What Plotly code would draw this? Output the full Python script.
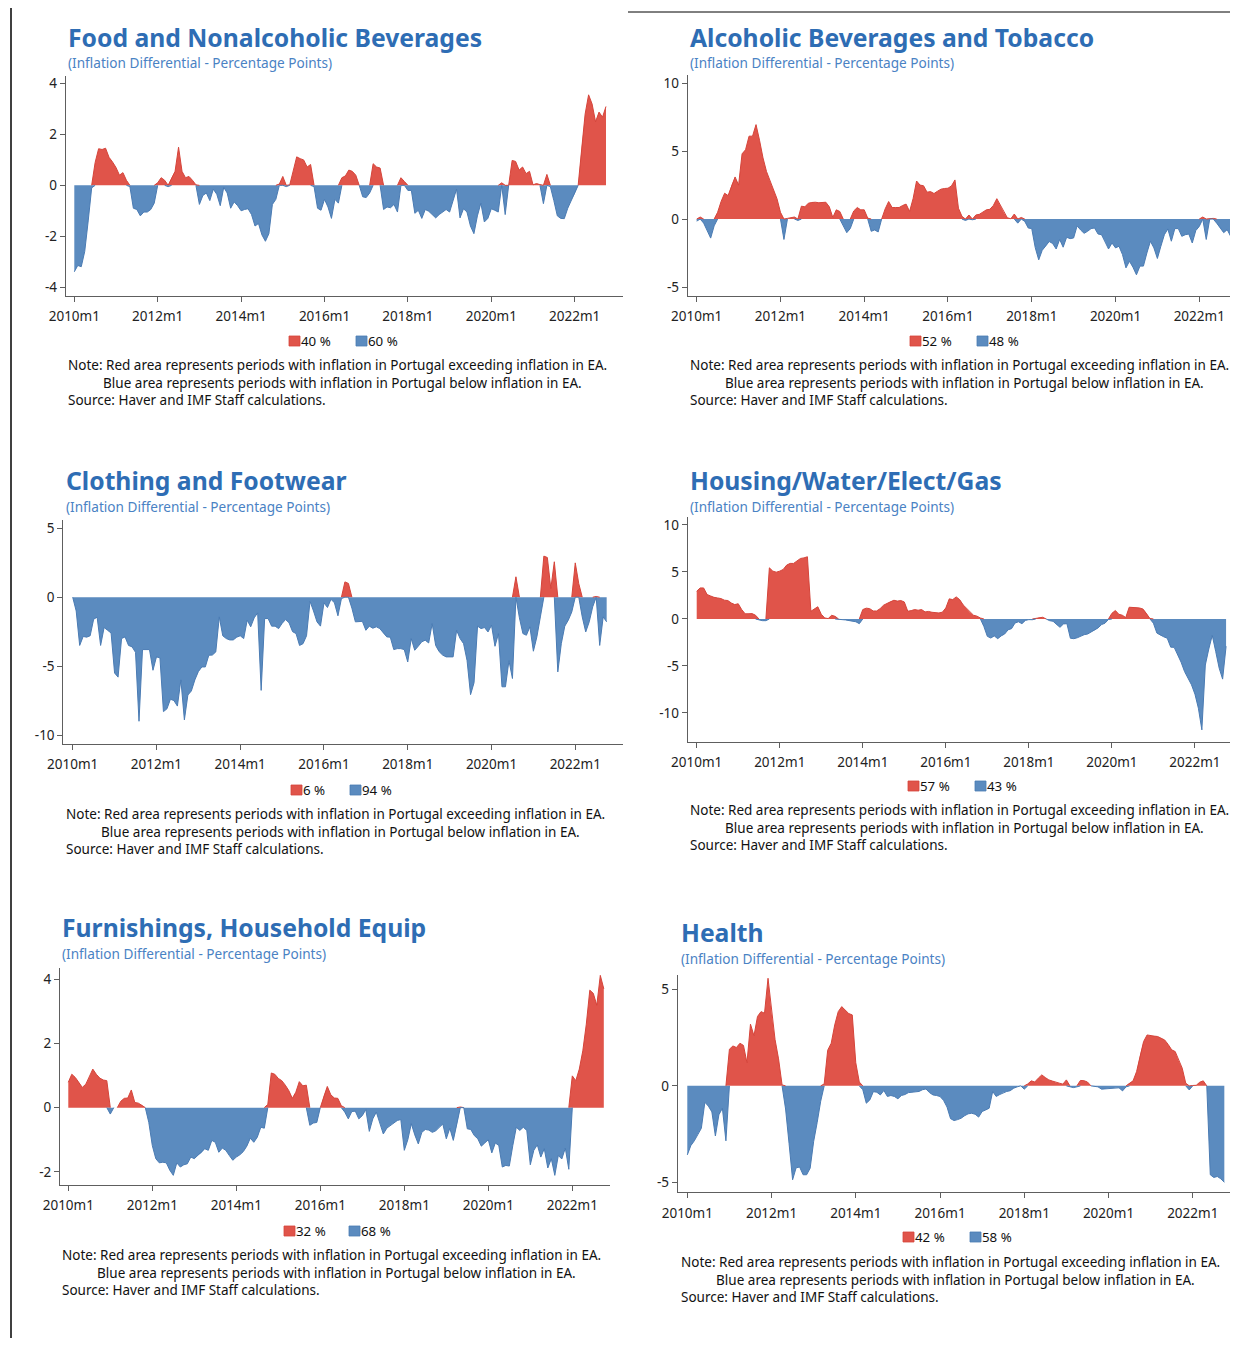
import plotly.graph_objects as go

# page is drawn with an 8px body margin, so the figure is offset by 8px and sized to fit the window
PAGE_W, PAGE_H, OFF = 1238, 1346, 8
W, H = PAGE_W - OFF, PAGE_H - 2 * OFF

# ---------------- data ----------------
tick_labels = ["2010m1", "2012m1", "2014m1", "2016m1", "2018m1", "2020m1", "2022m1"]

titles = ["Food and Nonalcoholic Beverages", "Alcoholic Beverages and Tobacco",
          "Clothing and Footwear", "Housing/Water/Elect/Gas",
          "Furnishings, Household Equip", "Health"]
subtitle = "(Inflation Differential - Percentage Points)"
red_share = [40, 52, 6, 57, 32, 42]
blue_share = [60, 48, 94, 43, 68, 58]
note_lines = ["Note: Red area represents periods with inflation in Portugal exceeding inflation in EA.",
              "Blue area represents periods with inflation in Portugal below inflation in EA.",
              "Source: Haver and IMF Staff calculations."]

food = [-3.4, -3.15, -3.2, -2.6, -1.4, -0.1, 0.9, 1.44, 1.41, 1.46,
        1.1, 0.92, 0.7, 0.4, 0.5, 0.2, -0.05, -0.9, -0.95, -1.2,
        -1.05, -1.05, -0.95, -0.7, 0.1, 0.3, 0.2, -0.05, 0.3, 0.55,
        1.5, 0.55, 0.3, 0.35, 0.2, 0.02, -0.75, -0.4, -0.3, -0.6,
        -0.15, -0.35, -0.8, -0.08, -0.3, -0.9, -0.65, -0.8, -1.0, -0.95,
        -0.92, -1.15, -1.6, -1.5, -1.95, -2.2, -1.9, -0.75, -0.55, 0.05,
        0.35, -0.05, 0.02, 0.55, 1.12, 1.05, 1.0, 0.72, 0.82, -0.05,
        -0.9, -0.98, -0.55, -0.85, -1.3, -0.55, -0.7, 0.3, 0.37, 0.6,
        0.55, 0.4, 0.0, -0.45, -0.48, -0.3, 0.85, 0.72, 0.68, -0.95,
        -0.85, -0.88, -0.75, -1.05, 0.3, 0.15, -0.2, -0.2, -1.1, -0.98,
        -1.3, -0.95, -1.02, -1.15, -1.28, -1.15, -1.05, -0.95, -1.05, -0.6,
        -0.15, -1.28, -0.92, -1.05, -1.6, -1.9, -1.2, -0.7, -1.44, -1.3,
        -0.92, -0.98, -1.05, 0.1, -1.15, 0.0, 0.98, 0.94, 0.6, 0.72,
        0.46, 0.55, 0.02, 0.07, 0.03, -0.72, 0.43, -0.05, -0.6, -1.2,
        -1.3, -1.31, -0.9, -0.6, -0.33, 0.0, 1.5, 2.8, 3.56, 3.2,
        2.5, 2.88, 2.68, 3.1]

alcohol = [-0.15, 0.15, -0.3, -0.85, -1.4, -0.5, 0.5, 1.3, 1.9, 1.73,
           2.5, 3.1, 2.5, 4.8, 5.1, 6.1, 6.1, 6.95, 5.8, 4.5,
           3.5, 2.8, 2.15, 1.5, 0.5, -1.5, 0.05, 0.1, 0.15, -0.1,
           0.95, 0.9, 1.17, 1.22, 1.24, 1.2, 1.22, 1.24, 0.9, 0.12,
           0.68, 0.56, -0.5, -1.0, -0.7, 0.6, 0.85, 0.68, 0.68, 0.07,
           -0.9, -0.8, -0.95, 0.0, 0.75, 1.29, 0.85, 0.85, 0.85, 1.0,
           1.1, 0.56, 1.5, 2.8, 2.5, 2.45, 1.98, 2.02, 1.88, 2.05,
           2.2, 2.25, 2.27, 2.44, 2.88, 0.8, 0.2, -0.1, 0.3, -0.05,
           0.3, 0.35, 0.5, 0.68, 0.72, 1.0, 1.5, 1.0, 0.5, 0.1,
           0.02, 0.37, -0.3, 0.12, -0.17, -0.66, -0.7, -2.1, -3.0, -2.3,
           -2.0, -1.65, -1.8, -2.2, -1.5, -2.07, -1.34, -1.44, -1.39, -0.5,
           -0.8, -1.05, -0.9, -0.7, -0.66, -1.1, -1.15, -1.63, -2.2, -1.76,
           -2.12, -2.0, -2.61, -3.59, -3.1, -3.54, -4.1, -3.46, -3.46, -2.49,
           -1.63, -2.12, -2.9, -2.0, -1.15, -0.73, -1.63, -0.7, -0.7, -1.27,
           -1.15, -1.1, -1.76, -0.85, -0.54, 0.15, -1.5, 0.05, 0.05, -0.3,
           -0.66, -1.0, -0.78, -1.27]

clothing = [0.0, -1.0, -3.5, -2.85, -2.9, -2.8, -1.6, -1.45, -3.5, -2.2,
            -2.4, -2.6, -5.5, -5.8, -3.0, -2.88, -3.5, -3.6, -4.0, -9.0,
            -3.8, -3.8, -3.8, -5.3, -4.33, -4.4, -8.3, -8.1, -7.4, -7.5,
            -7.9, -6.0, -8.9, -7.1, -6.8, -6.0, -5.4, -5.06, -5.06, -4.21,
            -4.2, -3.97, -1.43, -2.8, -3.0, -3.1, -3.1, -2.9, -2.8, -3.0,
            -1.67, -2.15, -1.5, -1.14, -6.76, -1.55, -1.55, -2.1, -2.1, -2.28,
            -1.9, -1.62, -1.86, -2.5, -2.64, -3.5, -3.37, -2.8, -0.3, -1.0,
            -1.79, -2.1, -0.41, -0.75, -0.15, -0.41, -1.35, -0.1, 1.11, 1.0,
            -0.8, -1.79, -1.79, -1.75, -2.4, -2.1, -2.25, -2.15, -2.28, -2.6,
            -2.88, -2.9, -3.8, -3.73, -3.73, -3.8, -4.7, -3.0, -3.85, -3.56,
            -3.24, -3.12, -3.32, -1.91, -3.5, -3.95, -4.2, -4.33, -4.33, -4.33,
            -2.4, -3.0, -3.37, -4.6, -7.07, -6.2, -2.1, -2.28, -2.2, -2.52,
            -2.03, -3.56, -2.64, -6.5, -6.5, -4.6, -5.9, 1.48, -1.5, -2.64,
            -2.76, -2.15, -3.92, -2.88, -1.43, 2.98, 2.88, 0.63, 2.57, -5.42,
            -3.37, -2.1, -1.67, -1.07, 2.49, 0.99, -1.43, -2.52, -1.79, -0.7,
            0.05, -3.5, -1.43, -1.79]

housing = [2.95, 3.3, 3.3, 2.6, 2.45, 2.3, 2.24, 2.17, 2.0, 1.96,
           1.7, 1.53, 1.62, 1.0, 0.55, 0.53, 0.57, 0.4, -0.12, -0.18,
           -0.18, 5.44, 5.09, 4.98, 5.09, 5.27, 5.73, 5.91, 5.91, 6.16,
           6.44, 6.5, 6.62, 0.82, 1.07, 1.3, 0.5, 0.11, 0.04, 0.39,
           0.28, -0.07, -0.07, -0.1, -0.18, -0.25, -0.3, -0.5, 1.0, 1.15,
           1.1, 0.85, 0.85, 1.1, 1.46, 1.65, 1.85, 1.99, 1.9, 1.96,
           1.81, 0.82, 0.89, 1.0, 0.93, 1.0, 0.75, 0.8, 0.71, 0.66,
           0.64, 0.72, 1.17, 2.14, 2.06, 2.35, 2.06, 1.5, 1.1, 0.7,
           0.4, 0.3, 0.1, -0.8, -1.85, -2.03, -1.8, -2.1, -1.8, -1.6,
           -1.15, -1.03, -0.43, -0.3, -0.5, -0.15, -0.07, -0.08, 0.05, 0.15,
           0.18, 0.0, -0.18, -0.25, -0.6, -0.89, -0.53, -0.5, -2.05, -2.1,
           -2.0, -1.8, -1.67, -1.6, -1.4, -1.2, -0.95, -0.6, -0.45, -0.05,
           0.6, 0.9, 0.5, 0.4, 0.15, 1.25, 1.25, 1.22, 1.17, 1.05,
           0.6, 0.05, -0.45, -1.5, -1.74, -1.9, -2.05, -3.0, -3.02, -3.8,
           -4.6, -5.6, -6.3, -7.0, -8.0, -9.5, -11.8, -4.9, -3.2, -1.74,
           -3.45, -5.23, -6.4, -2.9]

furnishings = [0.79, 1.04, 0.94, 0.79, 0.63, 0.73, 0.95, 1.2, 1.04, 0.92,
               0.86, 0.84, -0.2, 0.0, 0.0, 0.2, 0.29, 0.3, 0.55, 0.16,
               0.14, 0.08, 0.0, -0.46, -1.18, -1.59, -1.72, -1.7, -1.72, -1.95,
               -2.11, -1.72, -1.85, -1.78, -1.75, -1.54, -1.59, -1.49, -1.41, -1.28,
               -1.33, -1.02, -1.08, -1.39, -1.26, -1.33, -1.49, -1.64, -1.54, -1.47,
               -1.37, -1.2, -0.95, -1.08, -0.92, -0.61, -0.64, 0.1, 1.08, 1.04,
               0.91, 0.84, 0.7, 0.53, 0.29, 0.48, 0.81, 0.68, 0.7, -0.55,
               -0.48, -0.46, 0.0, 0.37, 0.66, 0.4, 0.3, 0.29, 0.06, -0.14,
               -0.35, -0.12, -0.11, -0.35, -0.25, -0.06, -0.74, -0.35, -0.14, -0.46,
               -0.82, -0.64, -0.55, -0.48, -0.4, -0.37, -1.33, -1.0, -0.5, -0.85,
               -1.13, -0.77, -0.68, -0.7, -0.77, -0.72, -0.6, -0.51, -0.97, -0.64,
               -1.02, -0.54, 0.02, 0.0, -0.66, -0.68, -0.87, -0.97, -1.2, -1.1,
               -1.0, -1.41, -1.1, -1.18, -1.85, -1.8, -1.82, -1.18, -0.61, -0.71,
               -0.61, -0.71, -1.78, -1.33, -1.16, -1.54, -1.28, -1.88, -1.59, -2.11,
               -1.49, -1.6, -1.26, -1.92, 0.99, 0.84, 1.2, 1.77, 2.6, 3.66,
               3.56, 3.19, 4.12, 3.7]

health = [-3.58, -3.1, -2.85, -2.5, -2.2, -0.85, -1.05, -1.35, -2.6, -1.5,
          -1.16, -2.85, 1.9, 2.07, 1.99, 2.21, 2.1, 1.2, 3.2, 2.6,
          3.6, 3.85, 3.77, 5.58, 3.85, 2.4, 1.4, 0.05, -1.2, -3.0,
          -4.87, -4.25, -4.21, -4.61, -4.61, -4.27, -2.88, -1.9, -0.8, 0.1,
          1.85, 2.21, 3.16, 3.85, 4.11, 3.94, 3.75, 3.68, 1.2, 0.2,
          -0.2, -0.9, -0.73, -0.3, -0.33, -0.47, -0.24, -0.55, -0.5, -0.55,
          -0.67, -0.5, -0.45, -0.35, -0.33, -0.31, -0.29, -0.2, -0.16, -0.35,
          -0.47, -0.5, -0.55, -0.75, -1.1, -1.7, -1.8, -1.75, -1.68, -1.55,
          -1.45, -1.42, -1.47, -1.62, -1.33, -1.25, -1.16, -0.29, -0.55, -0.45,
          -0.35, -0.29, -0.25, -0.12, -0.05, 0.0, -0.17, 0.1, 0.26, 0.2,
          0.4, 0.57, 0.43, 0.31, 0.25, 0.18, 0.14, 0.09, 0.31, -0.05,
          -0.09, -0.05, 0.28, 0.27, 0.2, 0.0, -0.03, -0.05, -0.17, -0.16,
          -0.12, -0.12, -0.1, -0.1, -0.26, -0.05, 0.15, 0.26, 0.74, 1.6,
          2.3, 2.64, 2.6, 2.58, 2.56, 2.47, 2.38, 2.15, 1.87, 1.78,
          1.3, 0.92, 0.14, -0.21, 0.02, 0.03, 0.19, 0.26, 0.0, -4.61,
          -4.75, -4.7, -4.82, -5.0]

series = [food, alcohol, clothing, housing, furnishings, health]

# ---------------- styling / layout (pixels of the reference page) ----------------
RED = "#E0544A"
RED_EDGE = "#D5443A"
BLUE = "#5B8BBF"
BLUE_EDGE = "#4A7BB3"
AXC = "#5E5E5E"
TITLE_C = "#2E6DB4"
SUB_C = "#4A82C4"
FONT = "Noto Sans"
NBSP = "\u00a0"
PADX = 2.5  # inner padding of annotation boxes

panels = [
    dict(ax=65.7, right=623, top=76, bottom=295.7, m0=74.3, ppm=3.475, yr=(-4.34, 4.3), yt=[-4, -2, 0, 2, 4],
         tx=68, ty=38, sy=63, ly=341, lr=289, lb=356, nx=68, ny=382.5),
    dict(ax=687.7, right=1236, top=75, bottom=296, m0=696.7, ppm=3.49, yr=(-5.66, 10.6), yt=[-5, 0, 5, 10],
         tx=690, ty=38, sy=63, ly=341, lr=910, lb=977, nx=690, ny=382.5),
    dict(ax=63.3, right=623, top=520, bottom=744, m0=72.7, ppm=3.49, yr=(-10.65, 5.6), yt=[-10, -5, 0, 5],
         tx=66, ty=481, sy=507, ly=790, lr=291, lb=350, nx=66, ny=831.5),
    dict(ax=687.7, right=1236, top=517, bottom=741.7, m0=696.7, ppm=3.46, yr=(-13.06, 10.85), yt=[-10, -5, 0, 5, 10],
         tx=690, ty=480, sy=506, ly=786, lr=908, lb=975, nx=690, ny=827.5),
    dict(ax=60, right=610, top=968, bottom=1185, m0=68.3, ppm=3.5, yr=(-2.41, 4.35), yt=[-2, 0, 2, 4],
         tx=62, ty=927, sy=953, ly=1231, lr=284, lb=349, nx=62, ny=1272.5),
    dict(ax=677.7, right=1236, top=975, bottom=1192.3, m0=687.3, ppm=3.51, yr=(-5.52, 5.75), yt=[-5, 0, 5],
         tx=681, ty=932, sy=958, ly=1237, lr=903, lb=970, nx=681, ny=1279),
]

fig = go.Figure()
annotations = []
shapes = []
tick_months = [24 * k for k in range(len(tick_labels))]


def px(xp):
    return (xp - OFF) / W


def py(yp):
    return 1 - (yp - OFF) / H


def edge_mask(vals, sign):
    """keep the outline only where this colour's area is drawn (value of that sign, or next to one)"""
    n = len(vals)
    out = []
    for j, v in enumerate(vals):
        near = [vals[t] for t in (j - 1, j, j + 1) if 0 <= t < n]
        if any(sign * u > 0 for u in near):
            out.append(v if sign * v > 0 else 0)
        else:
            out.append(None)
    return out


note_text = "<br>".join([note_lines[0], NBSP * 10 + note_lines[1], note_lines[2]])

for i, (p, vals) in enumerate(zip(panels, series), start=1):
    xs = list(range(len(vals)))
    pos = [v if v > 0 else 0 for v in vals]
    neg = [v if v < 0 else 0 for v in vals]
    xa, ya = ("x", "y") if i == 1 else (f"x{i}", f"y{i}")
    fig.add_trace(go.Scatter(x=xs, y=pos, mode="none", fill="tozeroy", fillcolor=RED,
                             xaxis=xa, yaxis=ya, hoverinfo="skip", showlegend=False))
    fig.add_trace(go.Scatter(x=xs, y=neg, mode="none", fill="tozeroy", fillcolor=BLUE,
                             xaxis=xa, yaxis=ya, hoverinfo="skip", showlegend=False))
    fig.add_trace(go.Scatter(x=xs, y=edge_mask(vals, 1), mode="lines", line=dict(color=RED_EDGE, width=1),
                             connectgaps=False, xaxis=xa, yaxis=ya, hoverinfo="skip", showlegend=False))
    fig.add_trace(go.Scatter(x=xs, y=edge_mask(vals, -1), mode="lines", line=dict(color=BLUE_EDGE, width=1),
                             connectgaps=False, xaxis=xa, yaxis=ya, hoverinfo="skip", showlegend=False))

    xr = [(p["ax"] - p["m0"]) / p["ppm"], (p["right"] - p["m0"]) / p["ppm"]]
    xkey = "xaxis" if i == 1 else f"xaxis{i}"
    ykey = "yaxis" if i == 1 else f"yaxis{i}"
    fig.layout[xkey] = dict(domain=[px(p["ax"]), min(1, px(p["right"]))], range=xr, anchor=ya, automargin=False,
                            tickmode="array", tickvals=tick_months, ticktext=tick_labels,
                            showline=True, linecolor=AXC, linewidth=1, ticks="outside", ticklen=5,
                            tickcolor=AXC, showgrid=False, zeroline=False, ticklabelstandoff=3,
                            tickfont=dict(family=FONT, size=13.5, color="#222"), fixedrange=True)
    fig.layout[ykey] = dict(domain=[py(p["bottom"]), py(p["top"])], range=list(p["yr"]), anchor=xa,
                            automargin=False, tickmode="array", tickvals=p["yt"],
                            ticktext=[str(v) for v in p["yt"]],
                            showline=True, linecolor=AXC, linewidth=1, ticks="outside", ticklen=5,
                            tickcolor=AXC, showgrid=False, zeroline=False,
                            tickfont=dict(family=FONT, size=13.5, color="#222"), fixedrange=True)

    k = i - 1
    annotations.append(dict(text="<b>" + titles[k] + "</b>", x=px(p["tx"] - PADX), y=py(p["ty"]),
                            xref="paper", yref="paper", xanchor="left", yanchor="middle", showarrow=False,
                            font=dict(family=FONT, size=24.7, color=TITLE_C)))
    annotations.append(dict(text=subtitle, x=px(p["tx"] - PADX), y=py(p["sy"]), xref="paper", yref="paper",
                            xanchor="left", yanchor="middle", showarrow=False,
                            font=dict(family=FONT, size=13.6, color=SUB_C)))
    # legend squares + labels
    for sx, col, edge, share in ((p["lr"], RED, RED_EDGE, red_share[k]), (p["lb"], BLUE, BLUE_EDGE, blue_share[k])):
        shapes.append(dict(type="rect", xref="paper", yref="paper",
                           x0=px(sx), x1=px(sx + 11), y0=py(p["ly"] + 5), y1=py(p["ly"] - 5),
                           fillcolor=col, line=dict(color=edge, width=0.8)))
        annotations.append(dict(text=f"{share} %", x=px(sx + 12.5 - PADX), y=py(p["ly"]), xref="paper", yref="paper",
                                xanchor="left", yanchor="middle", showarrow=False,
                                font=dict(family=FONT, size=13.3, color="#111")))
    # notes (one wrapped text block)
    annotations.append(dict(text=note_text, x=px(p["nx"] - PADX), y=py(p["ny"]), xref="paper", yref="paper",
                            xanchor="left", yanchor="middle", align="left", showarrow=False,
                            font=dict(family=FONT, size=13.5, color="#111")))

# page border lines from the source document
shapes.append(dict(type="line", xref="paper", yref="paper", x0=px(11), x1=px(11), y0=0, y1=1,
                   line=dict(color="#000", width=1.5)))
shapes.append(dict(type="line", xref="paper", yref="paper", x0=px(628), x1=1, y0=py(12), y1=py(12),
                   line=dict(color="#000", width=1)))

fig.update_layout(width=W, height=H, autosize=False, margin=dict(l=0, r=0, t=0, b=0, pad=0),
                  paper_bgcolor="white", plot_bgcolor="white",
                  annotations=annotations, shapes=shapes, showlegend=False)

fig.write_html("out.html")
